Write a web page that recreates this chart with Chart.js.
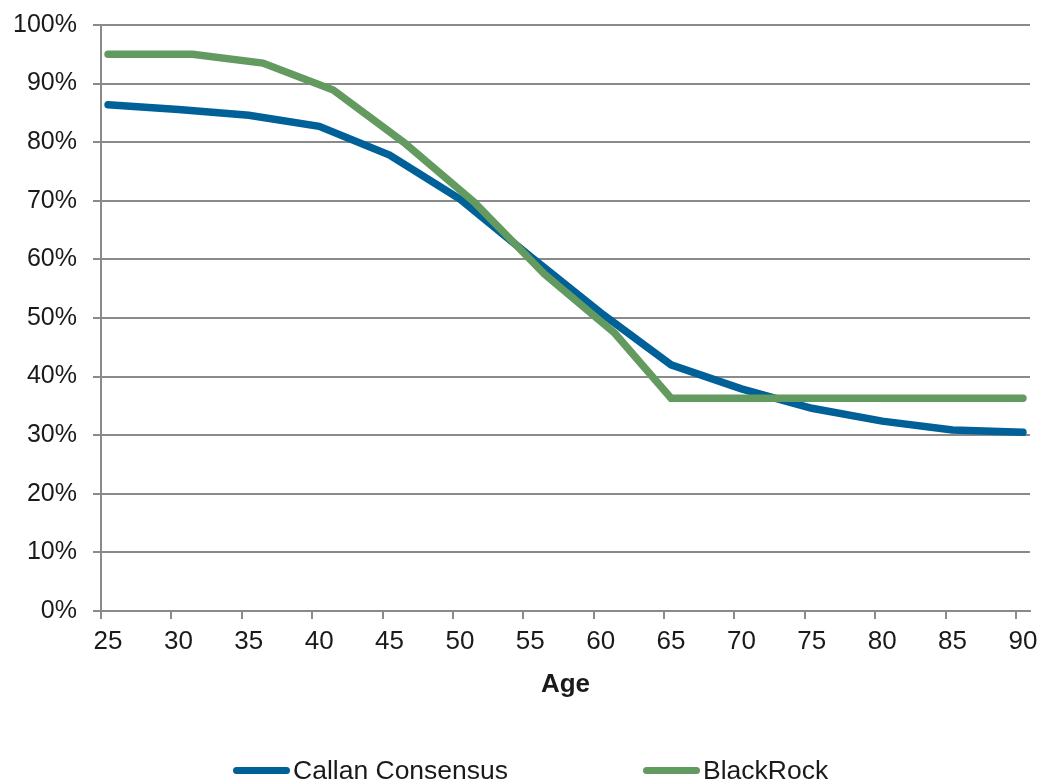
<!DOCTYPE html>
<html>
<head>
<meta charset="utf-8">
<script src="https://cdn.jsdelivr.net/npm/chart.js@4.4.1/dist/chart.umd.min.js"></script>
<style>
  body { margin: 0; background: #fff; }
  #wrap { position: relative; width: 1041px; height: 781px; overflow: hidden; }
  #legend { position: absolute; left: 0; top: 755px; width: 1041px; height: 30px; }
  .item { position: absolute; top: 0; height: 30px; }
  .mark { position: absolute; top: 12px; left: 0; width: 57px; height: 7px; border-radius: 3.5px; }
  .text {
    position: absolute; top: 0; left: 60px; white-space: nowrap;
    font: 26.5px/30px "Liberation Sans", Arial, sans-serif; color: #1a1a1a;
  }
</style>
</head>
<body>
<div id="wrap">
  <canvas id="glideChart" width="1041" height="781"></canvas>
  <div id="legend"></div>
</div>
<script>
const ageTicks = [25, 30, 35, 40, 45, 50, 55, 60, 65, 70, 75, 80, 85, 90];
const pctTicks = [0, 10, 20, 30, 40, 50, 60, 70, 80, 90, 100];

const callanAges = [25, 30, 35, 40, 45, 50, 55, 60, 65, 70, 75, 80, 85, 90];
const callanEquity = [86.4, 85.6, 84.6, 82.7, 77.8, 70.3, 60.5, 50.9, 42.0, 37.9, 34.6, 32.4, 30.9, 30.5];

const blackrockAges = [25, 31, 36, 41, 46, 51, 56, 61, 65, 90];
const blackrockEquity = [95.0, 95.0, 93.5, 88.9, 80.0, 69.8, 57.5, 47.4, 36.3, 36.3];

const legendLeft = [233, 643];

const gridGray = '#8a8a8a';
const textColor = '#1a1a1a';

function toPoints(ages, values) {
  return ages.map((age, i) => ({ x: age, y: values[i] }));
}

function renderLegend(chart) {
  const box = document.getElementById('legend');
  chart.data.datasets.forEach((ds, i) => {
    const item = document.createElement('div');
    item.className = 'item';
    item.style.left = legendLeft[i] + 'px';
    item.innerHTML = '<span class="mark" style="background:' + ds.borderColor + '"></span>' +
      '<span class="text">' + ds.label + '</span>';
    box.appendChild(item);
  });
}

Chart.defaults.font.family = '"Liberation Sans", Arial, sans-serif';
Chart.defaults.color = textColor;

const ctx = document.getElementById('glideChart');

const glideChart = new Chart(ctx, {
  type: 'line',
  data: {
    datasets: [{
      label: 'Callan Consensus',
      data: toPoints(callanAges, callanEquity),
      borderColor: '#006098',
      backgroundColor: '#006098',
      borderWidth: 7.5,
      borderCapStyle: 'round',
      pointRadius: 0,
      tension: 0,
      order: 1
    }, {
      label: 'BlackRock',
      data: toPoints(blackrockAges, blackrockEquity),
      borderColor: '#629a60',
      backgroundColor: '#629a60',
      borderWidth: 7.5,
      borderCapStyle: 'round',
      pointRadius: 0,
      tension: 0,
      order: 0
    }]
  },
  options: {
    responsive: false,
    animation: false,
    events: [],
    layout: { padding: { top: 25, right: 11, bottom: 70, left: 0 } },
    plugins: { legend: { display: false }, tooltip: { enabled: false } },
    scales: {
      x: {
        type: 'linear',
        min: 24.5,
        max: 90.5,
        afterBuildTicks: scale => { scale.ticks = ageTicks.map(a => ({ value: a - 0.5 })); },
        afterFit: scale => { scale.height = 100; },
        ticks: {
          callback: value => String(value + 0.5),
          labelOffset: 7,
          padding: 7,
          maxRotation: 0,
          autoSkip: false,
          font: { size: 26 },
          color: textColor
        },
        grid: { drawOnChartArea: false, drawTicks: true, tickLength: 8, color: gridGray, lineWidth: 2 },
        border: { display: true, color: gridGray, width: 2 },
        title: {
          display: true,
          text: 'Age',
          font: { size: 26, weight: 'bold' },
          color: textColor,
          padding: { top: 0, bottom: 11 }
        }
      },
      y: {
        min: 0,
        max: 100,
        afterBuildTicks: scale => { scale.ticks = pctTicks.map(v => ({ value: v })); },
        afterFit: scale => {
          scale.width = 101;
          scale.paddingTop = 0;
          scale.paddingBottom = 0;
        },
        ticks: {
          callback: value => value + '%',
          padding: 16,
          font: { size: 25 },
          color: textColor
        },
        grid: { color: gridGray, lineWidth: 2, tickLength: 8 },
        border: { display: true, color: gridGray, width: 2 }
      }
    }
  }
});

renderLegend(glideChart);
</script>
</body>
</html>
